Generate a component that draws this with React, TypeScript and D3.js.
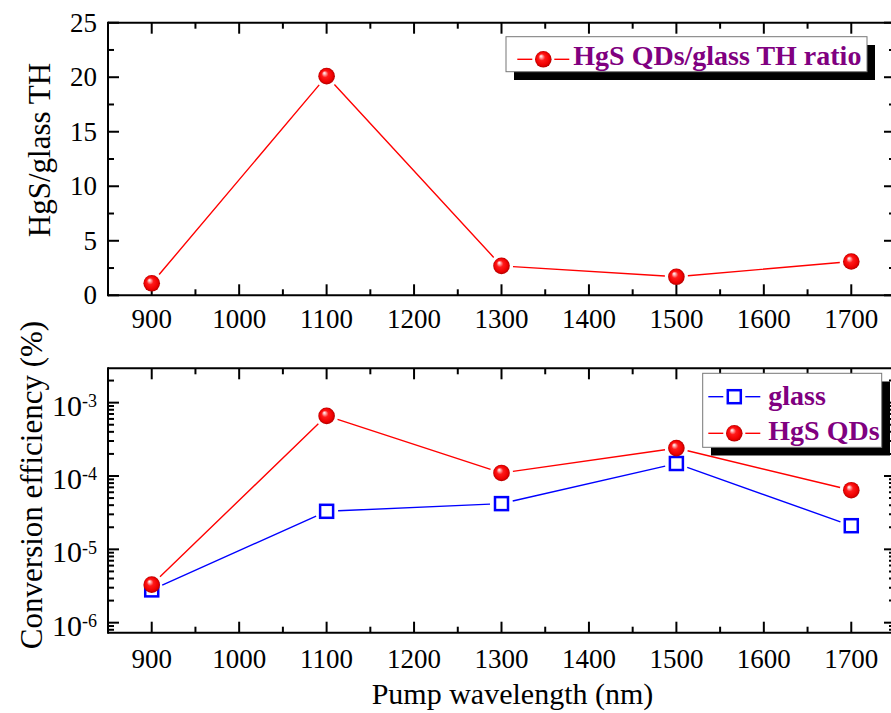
import React from "react";
import * as d3 from "d3";

const wavelengths = [900, 1100, 1300, 1500, 1700];
const thRatio = [1.1, 20.1, 2.7, 1.7, 3.1];
const glassEff = [2.8e-6, 3.3e-5, 4.2e-5, 1.48e-4, 2.1e-5];
const qdEff = [3.3e-6, 6.6e-4, 1.1e-4, 2.4e-4, 6.4e-5];
const xTicks = [900, 1000, 1100, 1200, 1300, 1400, 1500, 1600, 1700];
const topYTicks = [0, 5, 10, 15, 20, 25];
const botDecades = [-6, -5, -4, -3];

const W = 891, H = 713;
const L = 108, R = 895;
const T1 = 22.7, B1 = 295.3;
const T2 = 368.3, B2 = 632.7;
const FONT = "Liberation Serif";
const PURPLE = "#800080";

const x = d3.scaleLinear().domain([850, 1750]).range([L, R]);
const yTop = d3.scaleLinear().domain([0, 25]).range([B1, T1]);
const yBot = d3.scaleLog().domain([7.3e-7, 2.94e-3]).range([B2, T2]);

function gappedSegments(pts: [number, number][], gap: number) {
  const segs: string[] = [];
  for (let i = 0; i < pts.length - 1; i++) {
    const [x0, y0] = pts[i];
    const [x1, y1] = pts[i + 1];
    const dx = x1 - x0, dy = y1 - y0;
    const len = Math.hypot(dx, dy);
    if (len <= 2 * gap) continue;
    const ux = dx / len, uy = dy / len;
    segs.push(`M${x0 + ux * gap},${y0 + uy * gap}L${x1 - ux * gap},${y1 - uy * gap}`);
  }
  return segs.join("");
}

const Sphere = ({ cx, cy }: { cx: number; cy: number }) => (
  <circle cx={cx} cy={cy} r={8.3} fill="url(#sphereGrad)" />
);
const Square = ({ cx, cy }: { cx: number; cy: number }) => (
  <rect x={cx - 6.5} y={cy - 6.5} width={13} height={13} fill="none" stroke="#0000ff" strokeWidth={2.5} />
);

const LegendLine = ({ cx, cy, color }: { cx: number; cy: number; color: string }) => (
  <g stroke={color} strokeWidth={1.4}>
    <line x1={cx - 26} x2={cx - 11} y1={cy} y2={cy} />
    <line x1={cx + 11} x2={cx + 26} y1={cy} y2={cy} />
  </g>
);

function Frame({ top, bottom }: { top: number; bottom: number }) {
  return (
    <g stroke="#000" strokeWidth={2}>
      <line x1={L} x2={R} y1={top} y2={top} />
      <line x1={L} x2={R} y1={bottom} y2={bottom} />
      <line x1={L} x2={L} y1={top - 1} y2={bottom + 1} />
      <line x1={R} x2={R} y1={top} y2={bottom} />
    </g>
  );
}

const txt = (size: number, bold = false): React.CSSProperties => ({
  fontFamily: FONT,
  fontSize: size + "px",
  fontWeight: bold ? "bold" : "normal",
});

function XTicks({ top, bottom, labelY }: { top: number; bottom: number; labelY: number }) {
  const minors = d3.range(850, 1751, 50).filter((v) => v % 100 !== 0);
  return (
    <g>
      {xTicks.map((v) => (
        <g key={"M" + v}>
          <line x1={x(v)} x2={x(v)} y1={bottom} y2={bottom - 11} stroke="#000" strokeWidth={2} />
          <line x1={x(v)} x2={x(v)} y1={top} y2={top + 11} stroke="#000" strokeWidth={2} />
          <text x={x(v)} y={labelY} textAnchor="middle" style={txt(27)} fill="#000">
            {v}
          </text>
        </g>
      ))}
      {minors.map((v) => (
        <g key={"m" + v}>
          <line x1={x(v)} x2={x(v)} y1={bottom} y2={bottom - 6} stroke="#000" strokeWidth={2} />
          <line x1={x(v)} x2={x(v)} y1={top} y2={top + 6} stroke="#000" strokeWidth={2} />
        </g>
      ))}
    </g>
  );
}

export default function App() {
  const topPts: [number, number][] = wavelengths.map((w, i) => [x(w), yTop(thRatio[i])]);
  const glassPts: [number, number][] = wavelengths.map((w, i) => [x(w), yBot(glassEff[i])]);
  const qdPts: [number, number][] = wavelengths.map((w, i) => [x(w), yBot(qdEff[i])]);

  const topMinor = d3.range(0, 25.01, 2.5).filter((v) => v % 5 !== 0);
  const [lo, hi] = yBot.domain();
  const logMinor: number[] = [];
  for (let e = -7; e <= -3; e++) {
    for (let m = 2; m <= 9; m++) {
      const v = m * Math.pow(10, e);
      if (v >= lo && v <= hi) logMinor.push(v);
    }
  }

  const GAP = 11.5;

  return (
    <svg width={W} height={H} style={{ position: "absolute", left: 0, top: 0, fontFamily: FONT }}>
      <defs>
        <radialGradient id="sphereGrad" cx="0.5" cy="0.5" r="0.5" fx="0.35" fy="0.3">
          <stop offset="0" stopColor="#ffffff" />
          <stop offset="0.15" stopColor="#ffb0b0" />
          <stop offset="0.4" stopColor="#ff1a1a" />
          <stop offset="0.8" stopColor="#ee0000" />
          <stop offset="1" stopColor="#b00000" />
        </radialGradient>
      </defs>
      <rect x={0} y={0} width={W} height={H} fill="#fff" />

      {/* ---------- TOP PANEL ---------- */}
      <XTicks top={T1} bottom={B1} labelY={328} />
      {topYTicks.map((v) => (
        <g key={"ty" + v}>
          <line x1={L} x2={L + 11} y1={yTop(v)} y2={yTop(v)} stroke="#000" strokeWidth={2} />
          <line x1={R} x2={R - 11} y1={yTop(v)} y2={yTop(v)} stroke="#000" strokeWidth={2} />
          <text x={97} y={yTop(v) + 9} textAnchor="end" style={txt(27)} fill="#000">
            {v}
          </text>
        </g>
      ))}
      {topMinor.map((v) => (
        <g key={"tm" + v}>
          <line x1={L} x2={L + 6} y1={yTop(v)} y2={yTop(v)} stroke="#000" strokeWidth={2} />
          <line x1={R} x2={R - 6} y1={yTop(v)} y2={yTop(v)} stroke="#000" strokeWidth={2} />
        </g>
      ))}
      <Frame top={T1} bottom={B1} />
      <path d={gappedSegments(topPts, GAP)} stroke="#ff0000" strokeWidth={1.4} fill="none" />
      {topPts.map(([cx, cy], i) => (
        <Sphere key={"ts" + i} cx={cx} cy={cy} />
      ))}
      <text transform="translate(50,150) rotate(-90)" textAnchor="middle" style={txt(31)} fill="#000">
        HgS/glass TH
      </text>

      {/* top legend */}
      <rect x={514} y={45} width={361} height={35} fill="#000" />
      <rect x={506} y={36.7} width={361} height={35} fill="#fff" stroke="#777" strokeWidth={1} />
      <LegendLine cx={543.3} cy={59.3} color="#ff0000" />
      <Sphere cx={543.3} cy={59.3} />
      <text x={573.3} y={65} style={txt(28, true)} fill={PURPLE}>
        HgS QDs/glass TH ratio
      </text>

      {/* ---------- BOTTOM PANEL ---------- */}
      <XTicks top={T2} bottom={B2} labelY={668} />
      {botDecades.map((e) => {
        const v = Math.pow(10, e);
        return (
          <g key={"by" + e}>
            <line x1={L} x2={L + 11} y1={yBot(v)} y2={yBot(v)} stroke="#000" strokeWidth={2} />
            <line x1={R} x2={R - 11} y1={yBot(v)} y2={yBot(v)} stroke="#000" strokeWidth={2} />
            <text x={97} y={yBot(v) + 13} textAnchor="end" style={txt(30)} fill="#000">
              10
              <tspan style={{ fontSize: "18px" }} dy={-8.5}>
                {e}
              </tspan>
            </text>
          </g>
        );
      })}
      {logMinor.map((v, i) => (
        <g key={"bm" + i}>
          <line x1={L} x2={L + 6} y1={yBot(v)} y2={yBot(v)} stroke="#000" strokeWidth={2} />
          <line x1={R} x2={R - 6} y1={yBot(v)} y2={yBot(v)} stroke="#000" strokeWidth={2} />
        </g>
      ))}
      <Frame top={T2} bottom={B2} />
      <path d={gappedSegments(glassPts, GAP)} stroke="#0000ff" strokeWidth={1.4} fill="none" />
      {glassPts.map(([cx, cy], i) => (
        <Square key={"gs" + i} cx={cx} cy={cy} />
      ))}
      <path d={gappedSegments(qdPts, GAP)} stroke="#ff0000" strokeWidth={1.4} fill="none" />
      {qdPts.map(([cx, cy], i) => (
        <Sphere key={"qs" + i} cx={cx} cy={cy} />
      ))}
      <text transform="translate(42,485) rotate(-90)" textAnchor="middle" style={txt(31)} fill="#000">
        Conversion efficiency (%)
      </text>

      {/* bottom legend */}
      <rect x={711} y={381.5} width={179} height={74} fill="#000" />
      <rect x={702.7} y={373.3} width={179} height={74} fill="#fff" stroke="#777" strokeWidth={1} />
      <LegendLine cx={734.3} cy={396.7} color="#0000ff" />
      <Square cx={734.3} cy={396.7} />
      <text x={768.3} y={405} style={txt(28, true)} fill={PURPLE}>
        glass
      </text>
      <LegendLine cx={734.3} cy={433.3} color="#ff0000" />
      <Sphere cx={734.3} cy={433.3} />
      <text x={768.3} y={440} style={txt(28, true)} fill={PURPLE}>
        HgS QDs
      </text>

      <text x={512.5} y={704} textAnchor="middle" style={txt(30)} fill="#000">
        Pump wavelength (nm)
      </text>
    </svg>
  );
}
